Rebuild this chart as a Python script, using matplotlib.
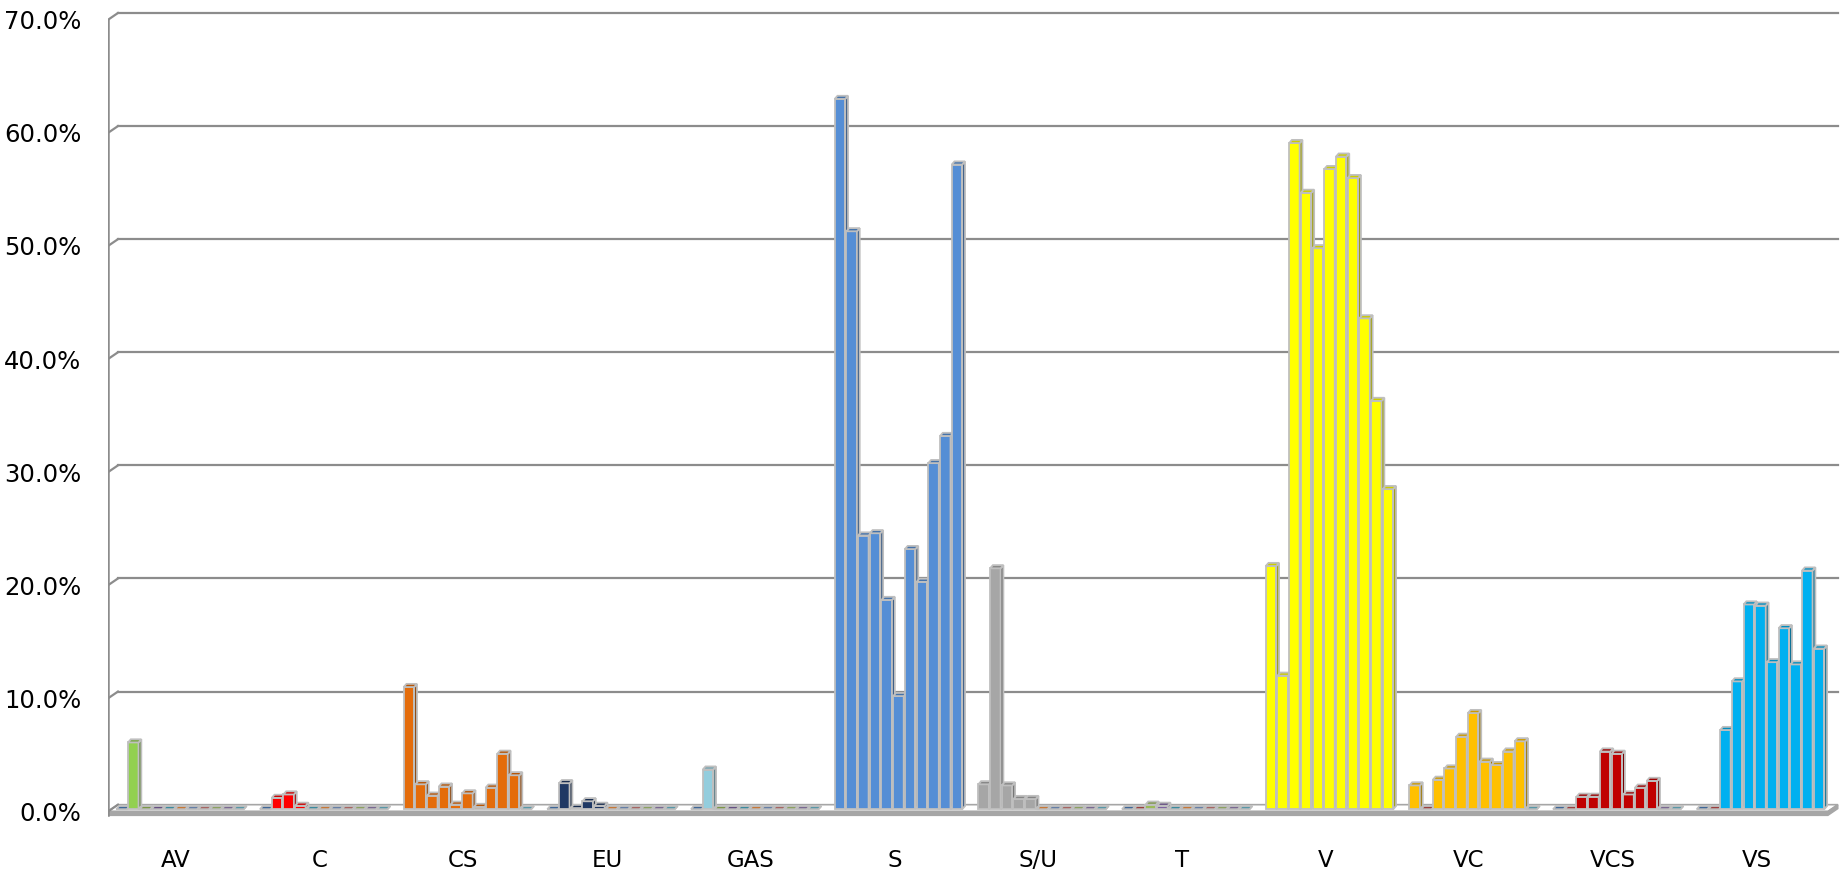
import matplotlib.pyplot as plt
import numpy as np
from matplotlib.patches import Polygon
from matplotlib.colors import to_rgb

categories = ["AV", "C", "CS", "EU", "GAS", "S", "S/U", "T", "V", "VC", "VCS", "VS"]

# 11 series per category, values in percent
av = [0, 5.9, 0, 0, 0, 0, 0, 0, 0, 0, 0]
c = [0, 1.0, 1.3, 0.3, 0, 0, 0, 0, 0, 0, 0]
cs = [10.8, 2.2, 1.2, 2.0, 0.4, 1.4, 0.2, 1.9, 4.9, 3.0, 0]
eu = [0, 2.3, 0.1, 0.7, 0.3, 0, 0, 0, 0, 0, 0]
gas = [0, 3.5, 0, 0, 0, 0, 0, 0, 0, 0, 0]
s = [62.8, 51.1, 24.2, 24.4, 18.5, 10.0, 23.0, 20.1, 30.6, 33.0, 57.0]
su = [2.2, 21.3, 2.1, 0.9, 0.9, 0, 0, 0, 0, 0, 0]
t = [0, 0, 0.4, 0.3, 0, 0, 0, 0, 0, 0, 0]
v = [21.5, 11.8, 58.9, 54.5, 49.6, 56.6, 57.7, 55.8, 43.4, 36.1, 28.3]
vc = [2.1, 0, 2.6, 3.6, 6.4, 8.5, 4.2, 3.9, 5.1, 6.0, 0]
vcs = [0, 0, 1.1, 1.1, 5.1, 4.9, 1.3, 1.9, 2.5, 0, 0]
vs = [0, 0, 7.0, 11.3, 18.1, 18.0, 13.0, 16.0, 12.8, 21.1, 14.2]
series = [av, c, cs, eu, gas, s, su, t, v, vc, vcs, vs]

cat_colors = ["#92D050", "#FF0000", "#E46C0A", "#1F3864", "#93CDDD", "#558ED5",
              "#A6A6A6", None, "#FFFF00", "#FFC000", "#C00000", "#00B0F0"]
# default excel palette, used for empty slots
palette = ["#4F81BD", "#C0504D", "#9BBB59", "#8064A2", "#4BACC6", "#F79646",
           "#7F9FCF", "#CF7F7C", "#AFC97A", "#9983B5", "#6FBDD1"]

# geometry (x in slot units, y in percent)
first = 0.71
group = 12.28
w = 0.9
bdx, bdy = 0.24, 0.28
base = 0.2
wdx, wdy = 0.85, 0.6
xend = 147.0
edge = "#BFBFBF"
grid = "#8C8C8C"

fig = plt.figure(figsize=(18.43, 8.77), dpi=100)
ax = fig.add_axes([108 / 1843, 47 / 877, 1 - 108 / 1843, 830 / 877])
ax.set_xlim(0, (1843 - 108) / 11.7)
ax.set_ylim(-1.64, 71.75)
for sp in ax.spines.values():
    sp.set_visible(False)

# floor
ax.add_patch(Polygon([(0, 0), (xend, 0), (xend + wdx, wdy), (wdx, wdy)],
                     closed=True, facecolor="white", edgecolor="#A6A6A6", lw=1.2, zorder=1))
ax.add_patch(Polygon([(0, -0.35), (xend, -0.35), (xend + wdx, wdy - 0.35), (xend + wdx, wdy),
                      (xend, 0), (0, 0)],
                     closed=True, facecolor="#A6A6A6", edgecolor="#A6A6A6", lw=1.0, zorder=1))

# back wall gridlines and left wall
for g in range(10, 80, 10):
    ax.plot([wdx, xend + wdx], [g + wdy, g + wdy], color=grid, lw=1.6, zorder=1)
for g in range(0, 80, 10):
    ax.plot([0, wdx], [g, g + wdy], color=grid, lw=1.6, zorder=1)
ax.plot([0, 0], [-0.35, 70], color=grid, lw=1.8, zorder=1)

z = 3.0
for i, vals in enumerate(series):
    for j, val in enumerate(vals):
        x = first + i * group + j
        col = cat_colors[i]
        if col is None or val == 0:
            col = palette[j]
        fc = np.array(to_rgb(col))
        top_y = base + val
        ax.bar(x, val, width=w, bottom=base, align="edge", color=fc,
               edgecolor=edge, linewidth=1.3, zorder=z)
        ax.add_patch(Polygon([(x + w, base), (x + w + bdx, base + bdy),
                              (x + w + bdx, top_y + bdy), (x + w, top_y)],
                             closed=True, facecolor=fc * 0.62, edgecolor=edge, lw=1.3, zorder=z))
        ax.add_patch(Polygon([(x, top_y), (x + bdx, top_y + bdy),
                              (x + w + bdx, top_y + bdy), (x + w, top_y)],
                             closed=True, facecolor=fc * 0.8, edgecolor=edge, lw=1.3, zorder=z))
        z += 0.01

ax.set_yticks(np.arange(0, 71, 10))
ax.set_yticklabels([f"{g:.1f}%" for g in range(0, 71, 10)], fontsize=17.5)
ax.set_xticks([first + i * group + 5.1 for i in range(len(categories))])
ax.set_xticklabels(categories, fontsize=16.5)
ax.tick_params(axis="y", length=0, pad=19)
ax.tick_params(axis="x", length=0, pad=14)

fig.savefig("out.png", dpi=100)
